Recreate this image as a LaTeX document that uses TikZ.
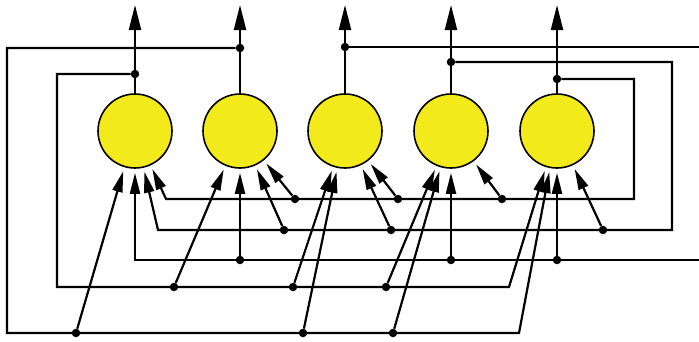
\documentclass[tikz,border=0pt]{standalone}
\usetikzlibrary{arrows.meta}
\definecolor{cellyellow}{RGB}{242,234,26}
\tikzset{
  neuron/.style={circle, draw=black, line width=1.6pt, fill=cellyellow, minimum size=74pt, inner sep=0pt},
  wire/.style={line width=2.2pt},
  outarrow/.style={wire, -{Triangle[length=25pt,width=12pt]}},
  inarrow/.style={wire, -{Triangle[length=21pt,width=10pt]}, shorten >=4pt},
  tap/.style={circle, fill=black, inner sep=0pt, minimum size=8.5pt},
}
\begin{document}
\begin{tikzpicture}[x=1pt, y=-1pt]
  \useasboundingbox (0,0) rectangle (699,341);
  % Neurons and their outputs
  \foreach \i/\x in {1/135, 2/240, 3/345, 4/451, 5/557} {
    \node[neuron] (n\i) at (\x,131) {};
    \coordinate (o\i) at (\x,5);
    \draw[outarrow] (n\i) -- (o\i);
  }
  % Feedback taps on the outputs
  \node[tap] (t1) at (135,74) {};
  \node[tap] (t2) at (240,48) {};
  \node[tap] (t3) at (345,47) {};
  \node[tap] (t4) at (451,62) {};
  \node[tap] (t5) at (557,79) {};
  % Corners of the feedback lines
  \coordinate (k1) at (57,287);  \coordinate (e1) at (509,287);
  \coordinate (k2) at (7,333);   \coordinate (e2) at (519,333);
  \coordinate (r3) at (699,47);  \coordinate (l3) at (699,260);
  \coordinate (k3) at (135,260);
  \coordinate (k4) at (672,230); \coordinate (e4) at (158,230);
  \coordinate (k5) at (634,199); \coordinate (e5) at (166,199);
  % Feedback lines
  \draw[inarrow] (t1) -| (k1) -- (e1) -- (n5);
  \draw[inarrow] (t2) -| (k2) -- (e2) -- (n5);
  \draw[wire] (t3) -- (r3);
  \draw[inarrow] (l3) -- (k3) -- (n1);
  \draw[inarrow] (t4) -| (k4) -- (e4) -- (n1);
  \draw[inarrow] (t5) -| (k5) -- (e5) -- (n1);
  % Branches to the other neurons
  \foreach \d/\n/\x/\y in {52/2/295/199, 53/3/398/199, 54/4/502/199,
                           42/2/284/230, 43/3/391/230, 45/5/603/230,
                           32/2/240/260, 34/4/451/260, 35/5/557/260,
                           12/2/174/287, 13/3/293/287, 14/4/386/287,
                           21/1/76/333, 23/3/303/333, 24/4/393/333} {
    \node[tap] (d\d) at (\x,\y) {};
    \draw[inarrow] (d\d) -- (n\n);
  }
\end{tikzpicture}
\end{document}
